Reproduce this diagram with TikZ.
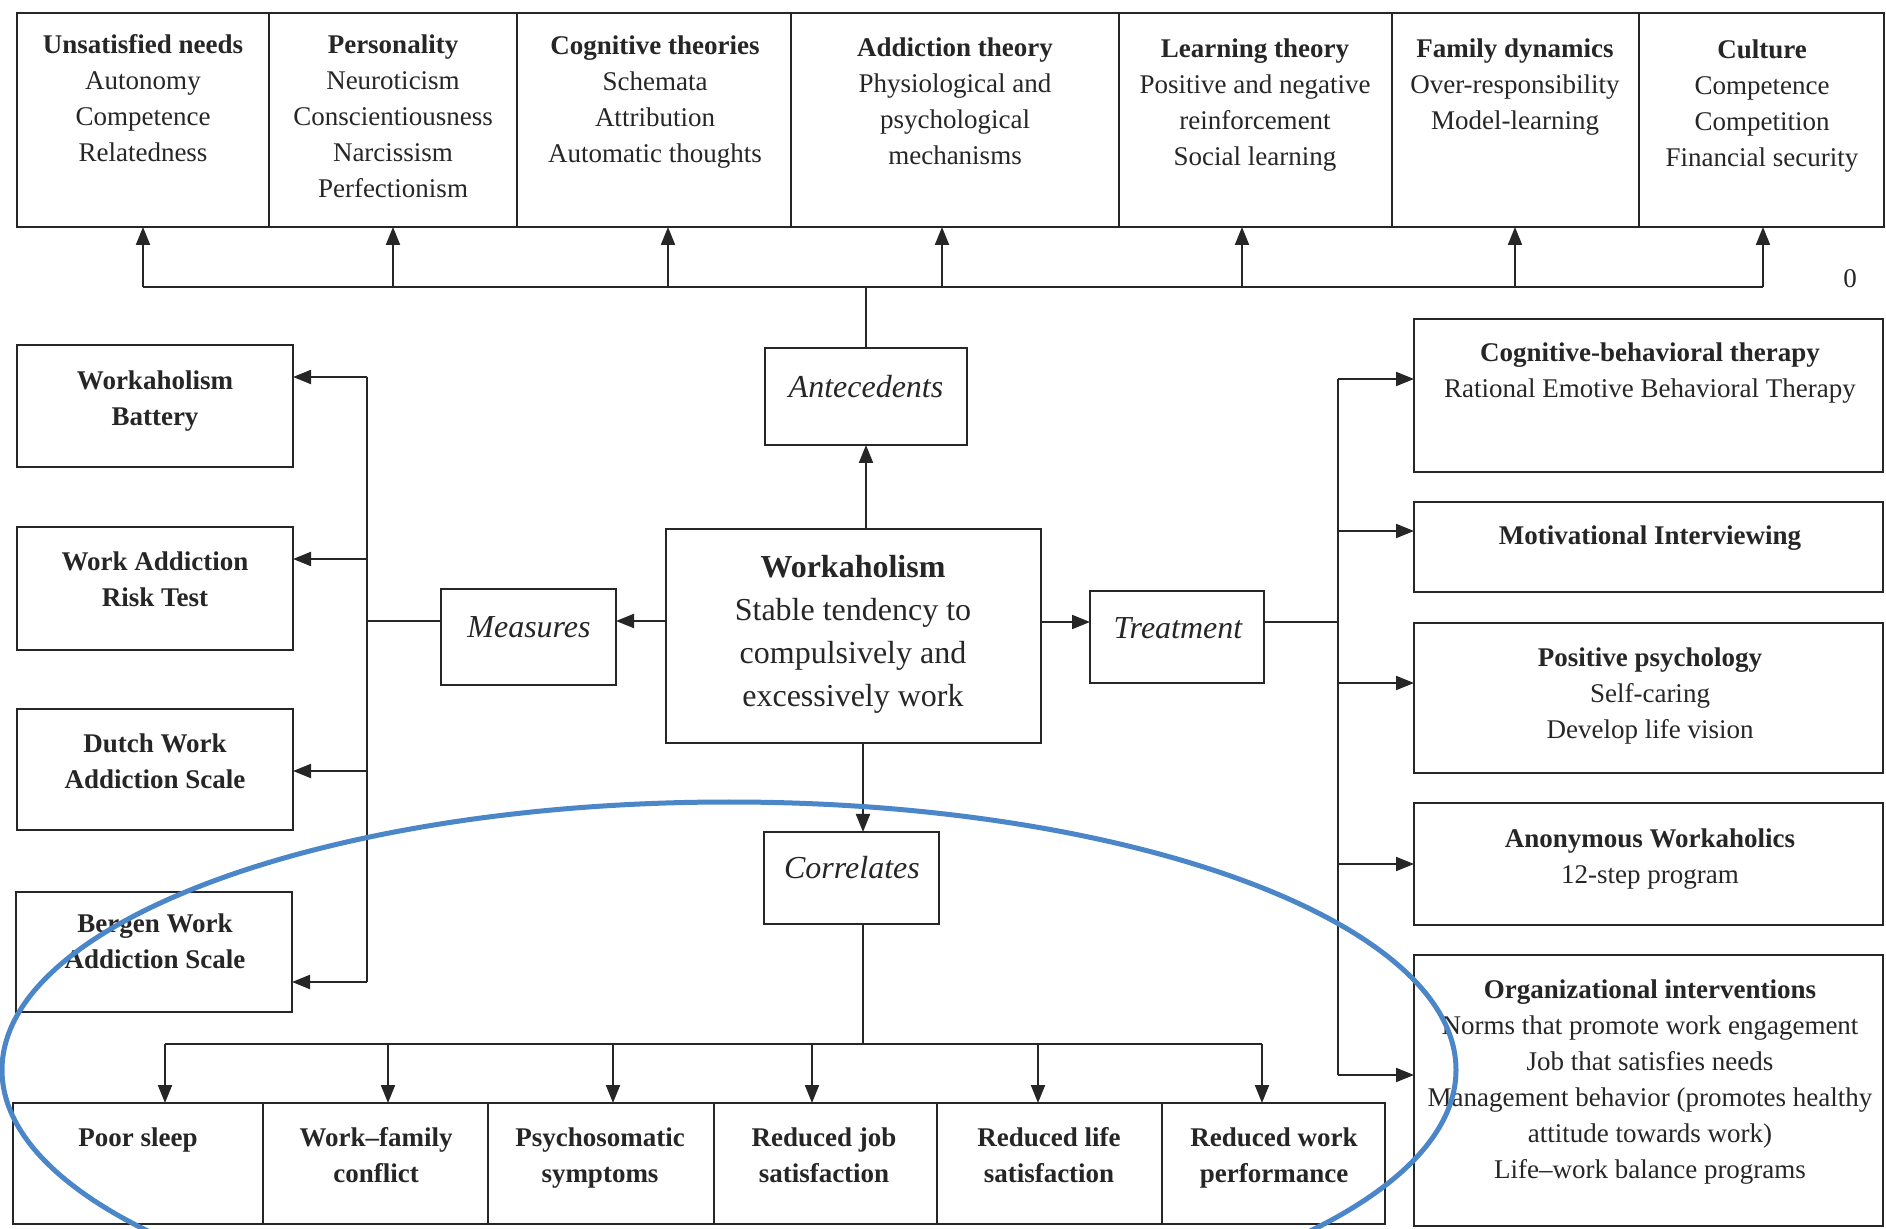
\documentclass[tikz,border=0pt]{standalone}
\usepackage{fontspec}
\setmainfont{Liberation Serif}
\usetikzlibrary{arrows.meta}
\definecolor{ink}{HTML}{262626}
\definecolor{ellblue}{HTML}{4A86C8}
\tikzset{
  bxs/.style={draw=ink, line width=1.1pt, inner sep=0pt, outer sep=0pt, rectangle},
  lnk/.style={draw=ink, line width=1pt},
  arr/.style={lnk, -{Triangle[length=9pt,width=7pt]}},
  txt/.style={text=ink, align=center, inner sep=0pt, anchor=north, font=\fontsize{13.5}{18}\selectfont},
  bigtxt/.style={text=ink, align=center, inner sep=0pt, anchor=north, font=\fontsize{16}{21.5}\selectfont},
  lab/.style={text=ink, inner sep=0pt, font=\fontsize{16}{20}\selectfont\itshape},
}
\newcommand\mkbox[5]{%
  \pgfmathsetmacro\bxw{(#4-#2)*0.5}%
  \pgfmathsetmacro\bxh{(#5-#3)*0.5}%
  \node[bxs, minimum width=\bxw pt, minimum height=\bxh pt] (#1) at ({(#2+#4)/2},{(#3+#5)/2}) {};%
}
\begin{document}
\begin{tikzpicture}[x=0.5pt,y=-0.5pt]
\useasboundingbox (0,0) rectangle (1886,1229);
\fill[white] (0,0) rectangle (1886,1229);

% ---------- top row ----------
\mkbox{c1}{17}{13}{269}{227}
\mkbox{c2}{269}{13}{517}{227}
\mkbox{c3}{517}{13}{791}{227}
\mkbox{c4}{791}{13}{1119}{227}
\mkbox{c5}{1119}{13}{1392}{227}
\mkbox{c6}{1392}{13}{1639}{227}
\mkbox{c7}{1639}{13}{1884}{227}
\node[txt] (c1t) at (143,34.5) {\textbf{Unsatisfied needs}\\Autonomy\\Competence\\Relatedness};
\node[txt] (c2t) at (393,34.5) {\textbf{Personality}\\Neuroticism\\Conscientiousness\\Narcissism\\Perfectionism};
\node[txt] (c3t) at (655,35.7) {\textbf{Cognitive theories}\\Schemata\\Attribution\\Automatic thoughts};
\node[txt] (c4t) at (955,36.9) {\textbf{Addiction theory}\\Physiological and\\psychological\\mechanisms};
\node[txt] (c5t) at (1255,38.1) {\textbf{Learning theory}\\Positive and negative\\reinforcement\\Social learning};
\node[txt] (c6t) at (1515,38.1) {\textbf{Family dynamics}\\Over-responsibility\\Model-learning};
\node[txt] (c7t) at (1762,39.3) {\textbf{Culture}\\Competence\\Competition\\Financial security};
\node[txt, anchor=center] (zero) at (1850,279) {0};

% ---------- centre ----------
\mkbox{ante}{765}{348}{967}{445}
\mkbox{wk}{666}{529}{1041}{743}
\mkbox{meas}{441}{589}{616}{685}
\mkbox{trt}{1090}{591}{1264}{683}
\mkbox{corr}{764}{832}{939}{924}
\node[lab] (antet) at (866,387) {Antecedents};
\node[lab] (meast) at (529,627) {Measures};
\node[lab] (trtt) at (1178,628) {Treatment};
\node[lab] (corrt) at (852,868) {Correlates};
\node[bigtxt] (wkt) at (853,555) {\textbf{Workaholism}\\Stable tendency to\\compulsively and\\excessively work};

% ---------- left boxes ----------
\mkbox{wb}{17}{345}{293}{467}
\mkbox{wr}{17}{527}{293}{650}
\mkbox{wd}{17}{709}{293}{830}
\mkbox{wbg}{16}{892}{292}{1012}
\node[txt] (wbt) at (155,370) {\textbf{Workaholism}\\\textbf{Battery}};
\node[txt] (wrt) at (155,551) {\textbf{Work Addiction}\\\textbf{Risk Test}};
\node[txt] (wdt) at (155,733) {\textbf{Dutch Work}\\\textbf{Addiction Scale}};
\node[txt] (wbgt) at (155,913) {\textbf{Bergen Work}\\\textbf{Addiction Scale}};

% ---------- bottom row ----------
\mkbox{b1}{13}{1103}{263}{1224}
\mkbox{b2}{263}{1103}{488}{1224}
\mkbox{b3}{488}{1103}{714}{1224}
\mkbox{b4}{714}{1103}{937}{1224}
\mkbox{b5}{937}{1103}{1162}{1224}
\mkbox{b6}{1162}{1103}{1385}{1224}
\node[txt] (b1t) at (138,1127) {\textbf{Poor sleep}};
\node[txt] (b2t) at (376,1127) {\textbf{Work–family}\\\textbf{conflict}};
\node[txt] (b3t) at (600,1127) {\textbf{Psychosomatic}\\\textbf{symptoms}};
\node[txt] (b4t) at (824,1127) {\textbf{Reduced job}\\\textbf{satisfaction}};
\node[txt] (b5t) at (1049,1127) {\textbf{Reduced life}\\\textbf{satisfaction}};
\node[txt] (b6t) at (1274,1127) {\textbf{Reduced work}\\\textbf{performance}};

% ---------- right boxes ----------
\mkbox{r1}{1414}{319}{1883}{472}
\mkbox{r2}{1414}{502}{1883}{592}
\mkbox{r3}{1414}{623}{1883}{773}
\mkbox{r4}{1414}{803}{1883}{925}
\mkbox{r5}{1414}{955}{1883}{1226}
\node[txt] (r1t) at (1650,342) {\textbf{Cognitive-behavioral therapy}\\Rational Emotive Behavioral Therapy};
\node[txt] (r2t) at (1650,525) {\textbf{Motivational Interviewing}};
\node[txt] (r3t) at (1650,647) {\textbf{Positive psychology}\\Self-caring\\Develop life vision};
\node[txt] (r4t) at (1650,828) {\textbf{Anonymous Workaholics}\\12-step program};
\node[txt] (r5t) at (1650,979) {\textbf{Organizational interventions}\\Norms that promote work engagement\\Job that satisfies needs\\Management behavior (promotes healthy\\attitude towards work)\\Life–work balance programs};

% ---------- connectors: antecedents ----------
\coordinate (tL) at (143,287);
\coordinate (tR) at (1763,287);
\draw[arr] (ante.south |- wk.north) -- (ante.south);
\draw[lnk] (ante.north) -- (ante.north |- tL);
\draw[lnk] (tL) -- (tR);
\foreach \x/\c in {143/c1,393/c2,668/c3,942/c4,1242/c5,1515/c6,1763/c7}{
  \coordinate (a\c) at (\x,287);
  \draw[arr] (a\c) -- (a\c |- \c.south);
}

% ---------- connectors: measures ----------
\coordinate (mY) at (0,621);
\coordinate (lbT) at (367,377);
\coordinate (lbR) at (367,559);
\coordinate (lbD) at (367,771);
\coordinate (lbB) at (367,982);
\draw[arr] (wk.west |- mY) -- (meas.east |- mY);
\draw[lnk] (meas.west |- mY) -- (lbT |- mY);
\draw[lnk] (lbT) -- (lbB);
\draw[arr] (lbT) -- (lbT -| wb.east);
\draw[arr] (lbR) -- (lbR -| wr.east);
\draw[arr] (lbD) -- (lbD -| wd.east);
\draw[arr] (lbB) -- (lbB -| wbg.east);

% ---------- connectors: treatment ----------
\coordinate (tY) at (0,622);
\coordinate (rbT) at (1338,379);
\coordinate (rb2) at (1338,531);
\coordinate (rb3) at (1338,683);
\coordinate (rb4) at (1338,864);
\coordinate (rbB) at (1338,1075);
\draw[arr] (wk.east |- tY) -- (trt.west |- tY);
\draw[lnk] (trt.east |- tY) -- (rbT |- tY);
\draw[lnk] (rbT) -- (rbB);
\draw[arr] (rbT) -- (rbT -| r1.west);
\draw[arr] (rb2) -- (rb2 -| r2.west);
\draw[arr] (rb3) -- (rb3 -| r3.west);
\draw[arr] (rb4) -- (rb4 -| r4.west);
\draw[arr] (rbB) -- (rbB -| r5.west);

% ---------- connectors: correlates ----------
\coordinate (cX) at (863,0);
\coordinate (bbL) at (165,1044);
\coordinate (bbR) at (1262,1044);
\draw[arr] (wk.south -| cX) -- (corr.north -| cX);
\draw[lnk] (corr.south -| cX) -- (cX |- bbL);
\draw[lnk] (bbL) -- (bbR);
\foreach \x/\c in {165/b1,388/b2,613/b3,812/b4,1038/b5,1262/b6}{
  \coordinate (d\c) at (\x,1044);
  \draw[arr] (d\c) -- (d\c |- \c.north);
}

% ---------- highlight ellipse ----------
\begin{scope}
\clip (0,0) rectangle (1886,1229);
\draw[ellblue, line width=2.5pt] (729,1070) ellipse [x radius=727, y radius=268];
\end{scope}
\end{tikzpicture}
\end{document}
